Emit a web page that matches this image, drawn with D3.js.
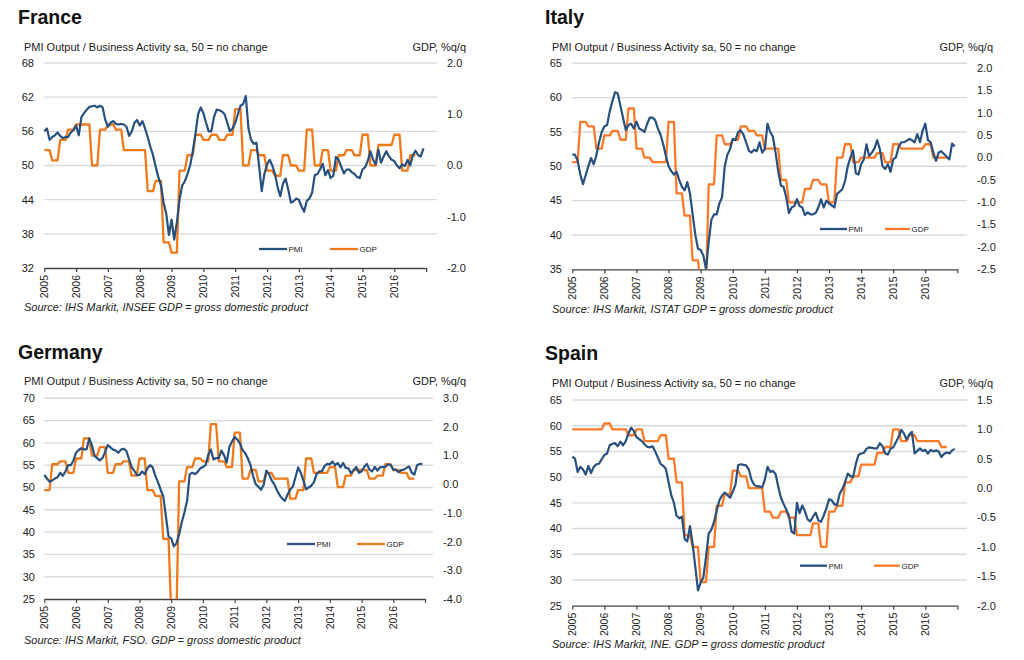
<!DOCTYPE html>
<html><head><meta charset="utf-8">
<script src="https://cdn.jsdelivr.net/npm/d3@7"></script>
<style>body{margin:0;background:#fff} svg{display:block;font-family:"Liberation Sans",Arial,Helvetica,sans-serif}</style>
</head><body><svg id="c" width="1024" height="660"></svg>
<script>
// ---------- data ----------
const years = [2005,2006,2007,2008,2009,2010,2011,2012,2013,2014,2015,2016];
const countries = ["France","Italy","Germany","Spain"];
const subtitle = "PMI Output / Business Activity sa, 50 = no change";
const rightTitle = "GDP, %q/q";
const seriesNames = ["PMI","GDP"];
const sources = [
  "Source: IHS Markit, INSEE GDP = gross domestic product",
  "Source: IHS Markit, ISTAT GDP = gross domestic product",
  "Source: IHS Markit, FSO. GDP = gross domestic product",
  "Source: IHS Markit, INE. GDP = gross domestic product"
];

const franceLeftTicks = [32,38,44,50,56,62,68];
const franceRightTicks = [-2.0,-1.0,0.0,1.0,2.0];
const italyLeftTicks = [35,40,45,50,55,60,65];
const italyRightTicks = [-2.5,-2.0,-1.5,-1.0,-0.5,0.0,0.5,1.0,1.5,2.0];
const germanyLeftTicks = [25,30,35,40,45,50,55,60,65,70];
const germanyRightTicks = [-4.0,-3.0,-2.0,-1.0,0.0,1.0,2.0,3.0];
const spainLeftTicks = [25,30,35,40,45,50,55,60,65];
const spainRightTicks = [-2.0,-1.5,-1.0,-0.5,0.0,0.5,1.0,1.5];

// monthly PMI, Jan 2005 - Dec 2016
const francePMI = [
56.0,56.5,54.5,55.0,55.3,55.8,55.2,54.8,55.0,55.0,55.8,56.2,
57.0,55.3,58.5,59.2,59.8,60.3,60.4,60.5,60.2,60.5,60.2,58.0,
56.8,57.5,57.8,57.3,57.2,57.3,57.2,56.8,55.2,56.0,57.5,58.0,
57.0,57.8,56.5,55.0,53.3,51.8,49.8,48.0,46.5,43.5,41.5,37.8,
40.5,37.0,40.0,44.0,46.5,47.2,48.5,50.0,52.5,55.5,59.0,60.2,
59.2,57.5,56.0,56.0,58.5,59.8,59.7,59.5,59.0,57.5,56.0,56.5,
57.5,59.0,60.5,60.8,62.2,56.5,54.5,53.8,54.0,50.0,45.5,48.5,
50.2,51.0,50.0,48.5,46.2,44.6,46.8,47.7,45.8,43.5,43.7,44.2,
44.0,42.8,41.9,43.8,44.2,45.2,48.3,48.5,49.3,50.3,48.3,49.2,
47.8,48.2,51.5,51.0,49.8,48.6,49.3,49.3,48.8,48.5,48.0,47.8,
49.3,49.7,50.8,52.5,51.0,50.2,52.8,50.5,51.6,52.5,51.6,51.0,
50.8,50.0,49.5,50.2,49.9,51.0,50.0,51.8,52.6,51.8,51.6,53.0];
const italyPMI = [
51.7,51.7,50.8,48.8,47.4,48.7,50.0,51.2,50.3,51.6,53.5,55.0,
55.8,56.0,58.0,59.5,60.8,60.6,58.8,57.0,55.3,56.0,56.2,55.5,
56.5,55.5,55.3,55.0,56.2,57.1,57.1,56.7,55.5,54.6,53.2,51.5,
50.0,49.3,48.8,49.2,48.0,47.0,46.5,47.7,46.0,43.0,40.0,38.0,
37.8,37.0,35.0,39.0,42.2,43.0,43.0,44.6,45.5,50.0,51.7,52.5,
54.0,53.8,55.0,55.2,54.6,53.5,52.3,52.0,52.4,52.2,53.5,52.0,
52.5,56.2,55.0,54.3,52.0,49.3,47.2,47.0,45.5,43.2,44.0,44.2,
45.2,44.2,44.0,42.9,43.3,43.0,43.0,43.2,44.0,45.2,44.0,45.0,
44.6,44.3,44.0,46.0,46.3,46.7,47.9,50.0,51.3,52.3,49.0,48.8,
50.3,51.0,53.2,51.5,52.0,52.6,53.8,52.5,50.0,49.6,50.3,49.2,
51.0,51.3,52.8,53.5,53.5,53.7,54.0,53.8,53.5,54.7,53.5,55.2,
56.2,53.8,53.5,52.0,50.8,52.0,52.2,51.8,51.4,51.0,53.3,52.9];
const germanyPMI = [
52.8,52.0,51.3,51.6,52.0,52.3,53.3,52.6,53.6,55.0,55.0,56.0,
57.8,58.4,58.8,58.5,58.6,61.0,59.5,57.1,56.6,56.1,56.6,58.0,
59.5,59.0,58.5,58.3,57.8,58.5,58.7,58.2,56.5,54.6,53.8,52.8,
52.8,53.6,53.0,54.3,55.0,54.5,52.6,51.2,49.5,48.0,43.5,39.0,
38.6,36.8,37.5,39.5,42.2,44.4,47.0,53.0,53.3,53.0,53.5,54.3,
54.6,55.0,57.3,58.5,56.3,56.6,56.6,58.3,57.2,55.6,59.1,60.3,
61.3,60.8,59.9,58.4,57.7,56.5,55.0,52.5,50.7,50.2,49.5,50.6,
53.8,53.0,51.6,50.7,49.4,48.3,47.5,47.0,48.4,49.5,50.2,52.3,
54.5,53.3,51.6,49.6,50.0,50.4,51.2,53.0,53.6,53.6,54.8,55.3,
55.2,55.8,55.0,55.5,54.5,55.5,54.4,54.3,53.2,53.9,54.6,53.3,
53.6,54.6,55.3,54.0,53.6,54.6,53.8,54.5,54.6,54.6,55.2,55.1,
54.0,54.0,53.4,53.9,54.0,54.4,54.7,53.3,52.9,55.0,55.3,55.3];
const spainPMI = [
54.0,53.6,51.0,52.0,51.5,50.5,52.2,50.8,52.0,52.5,52.6,53.5,
54.3,54.6,56.2,56.5,56.6,56.0,56.9,56.2,57.0,58.5,59.6,59.0,
57.8,57.4,57.0,56.4,55.9,55.8,56.0,55.0,53.8,52.6,52.2,51.6,
49.0,46.5,45.0,42.5,42.0,42.3,38.0,37.5,40.5,37.0,32.5,28.0,
29.5,30.5,34.5,39.0,39.8,41.3,43.5,45.5,46.4,47.0,46.5,46.0,
47.2,48.5,52.3,52.5,52.4,52.3,51.5,49.5,48.5,48.2,48.2,48.0,
49.5,52.0,51.0,51.2,50.6,48.2,46.0,44.8,43.7,42.5,39.4,39.0,
45.0,43.0,44.5,43.3,41.8,41.4,42.3,43.1,41.6,41.3,42.5,43.9,
45.7,45.5,44.7,44.6,46.8,47.7,49.0,50.7,50.2,50.0,52.5,54.3,
54.6,54.7,55.5,55.8,55.7,55.6,55.6,56.6,56.0,54.6,54.4,55.5,
55.8,56.8,57.8,59.2,58.5,57.3,58.3,58.8,54.6,55.1,55.6,55.1,
55.3,54.6,55.3,55.0,55.2,55.0,53.9,54.5,54.8,54.6,55.2,55.5];

// quarterly GDP %q/q, 2005 Q1 - 2016 Q3
const franceGDP = [0.3,0.1,0.5,0.7, 0.8,0.8,0.0,0.7, 0.8,0.7,0.3,0.3, 0.3,-0.5,-0.3,-1.5,
  -1.7,-0.1,0.2,0.6, 0.5,0.6,0.5,0.6, 1.1,0.0,0.3,0.2, -0.1,-0.2,0.2,0.0,
  -0.1,0.7,0.0,0.3, -0.1,0.2,0.3,0.2, 0.6,0.0,0.4,0.4, 0.6,-0.1,0.2];
const italyGDP = [-0.1,0.8,0.7,0.2, 0.5,0.6,0.4,1.1, 0.2,0.0,-0.1,-0.1, 0.8,-0.8,-1.3,-2.3,
  -2.9,-0.6,0.5,0.3, 0.4,0.7,0.6,0.5, 0.2,0.2,-0.5,-1.0, -1.0,-0.7,-0.5,-0.6,
  -1.0,0.0,0.3,-0.1, 0.0,0.0,0.1,-0.1, 0.3,0.2,0.2,0.2, 0.3,0.0,0.0];
const germanyGDP = [-0.2,0.7,0.8,0.4, 0.9,1.6,1.0,1.3, 0.4,0.7,0.8,0.3, 0.9,-0.2,-0.4,-1.9,
  -4.5,0.1,0.6,0.9, 0.8,2.1,0.8,0.6, 1.8,0.2,0.5,0.1, 0.4,0.2,0.2,-0.5,
  -0.2,0.9,0.4,0.4, 0.6,-0.1,0.3,0.5, 0.5,0.2,0.3,0.7, 0.5,0.4,0.2];
const spainGDP = [1.0,1.0,1.0,1.0, 1.1,1.0,1.0,0.9, 1.0,0.8,0.8,0.9, 0.5,0.1,-0.8,-1.0,
  -1.6,-1.0,-0.3,-0.1, 0.3,0.2,0.0,0.0, -0.4,-0.5,-0.4,-0.5, -0.8,-0.8,-0.6,-1.0,
  -0.4,-0.3,0.1,0.2, 0.4,0.4,0.6,0.7, 1.0,0.8,0.9,0.8, 0.8,0.8,0.7];

// ---------- layout ----------
const BLUE = "#28507f";
const svg = d3.select("#c");

const panels = [
  {name:countries[0], pmi:francePMI, gdp:franceGDP, lt:franceLeftTicks, rt:franceRightTicks, src:sources[0],
   orange:"#ee7a1b", tx:18, ty:24, sx:24, sy:50.5, gx:466,
   x0:44.3, x1:426.1, gridEnd:437, yTop:63, yBot:268, rTop:63, rBot:268,
   lLab:34, rLab:447, legY:249, leg1:[259,287], leg2:[330,358], srcY:310.5},
  {name:countries[1], pmi:italyPMI, gdp:italyGDP, lt:italyLeftTicks, rt:italyRightTicks, src:sources[1],
   orange:"#fb7a2a", tx:545, ty:24, sx:552, sy:50.5, gx:993,
   x0:572.3, x1:957.4, gridEnd:967, yTop:63.3, yBot:269.3, rTop:68.3, rBot:269.3,
   lLab:562, rLab:977, legY:229, leg1:[820,847], leg2:[885,910], srcY:313},
  {name:countries[2], pmi:germanyPMI, gdp:germanyGDP, lt:germanyLeftTicks, rt:germanyRightTicks, src:sources[2],
   orange:"#ee7a1b", tx:18, ty:359, sx:24, sy:385, gx:466,
   x0:44.3, x1:425, gridEnd:433, yTop:398.3, yBot:599, rTop:398.3, rBot:599,
   lLab:35, rLab:443, legY:544, leg1:[287,315], leg2:[357,385], srcY:644},
  {name:countries[3], pmi:spainPMI, gdp:spainGDP, lt:spainLeftTicks, rt:spainRightTicks, src:sources[3],
   orange:"#fb7a2a", tx:545, ty:360, sx:552, sy:386.5, gx:993,
   x0:572.3, x1:957.4, gridEnd:967, yTop:400, yBot:605.7, rTop:400, rBot:605.7,
   lLab:562, rLab:977, legY:565.7, leg1:[800,827], leg2:[874,900], srcY:648}
];

panels.forEach((p, idx) => {
  const g = svg.append("g");
  const x = d3.scaleLinear().domain([0, 144]).range([p.x0, p.x1]);
  const yL = d3.scaleLinear().domain([p.lt[0], p.lt[p.lt.length-1]]).range([p.yBot, p.yTop]);
  const yR = d3.scaleLinear().domain([p.rt[0], p.rt[p.rt.length-1]]).range([p.rBot, p.rTop]);

  // titles
  g.append("text").attr("x", p.tx).attr("y", p.ty).text(p.name)
    .attr("font-size", 19.5).attr("font-weight", "bold").attr("fill", "#111");
  g.append("text").attr("x", p.sx).attr("y", p.sy).text(subtitle)
    .attr("font-size", 11).attr("fill", "#222");
  g.append("text").attr("x", p.gx).attr("y", p.sy).text(rightTitle)
    .attr("font-size", 11).attr("fill", "#222").attr("text-anchor", "end");

  // gridlines
  g.selectAll("line.grid").data(p.lt.slice(1)).join("line").attr("class","grid")
    .attr("x1", p.x0).attr("x2", p.gridEnd)
    .attr("y1", d => yL(d)).attr("y2", d => yL(d))
    .attr("stroke", "#d9d9d9").attr("stroke-width", 1.4);

  // left labels
  g.selectAll("text.ll").data(p.lt).join("text").attr("class","ll")
    .attr("x", p.lLab).attr("y", d => yL(d)).attr("dy", "0.35em")
    .attr("text-anchor", "end").attr("font-size", 11).attr("fill", "#222")
    .text(d => d);
  // right labels
  g.selectAll("text.rl").data(p.rt).join("text").attr("class","rl")
    .attr("x", p.rLab).attr("y", d => yR(d)).attr("dy", "0.35em")
    .attr("font-size", 11).attr("fill", "#222")
    .text(d => d3.format(".1f")(d).replace("−","-"));

  // bottom axis
  const ax = g.append("g").attr("transform", `translate(0,${p.yBot})`)
    .call(d3.axisBottom(x).tickValues(d3.range(0, 145, 12)).tickSize(4).tickSizeOuter(0).tickFormat(""));
  ax.select(".domain").attr("stroke", "#444").attr("stroke-width", 1.3);
  ax.selectAll(".tick line").attr("stroke", "#444").attr("stroke-width", 1.2);

  // year labels
  g.selectAll("text.yr").data(years).join("text").attr("class","yr")
    .attr("transform", (d, i) => `translate(${x(i*12)},${p.yBot + 7}) rotate(-90)`)
    .attr("dy", "0.36em").attr("text-anchor", "end")
    .attr("font-size", 10.5).attr("fill", "#222").text(d => d);

  // clip
  const cid = "clip" + idx;
  svg.append("defs").append("clipPath").attr("id", cid).append("rect")
    .attr("x", p.x0 - 2).attr("y", p.yTop - 2).attr("width", p.gridEnd - p.x0 + 4).attr("height", p.yBot - p.yTop + 2);

  // GDP step (each quarter held for 3 months)
  const gdpMonthly = [];
  p.gdp.forEach((v, k) => { for (let m = 0; m < 3; m++) gdpMonthly.push({i: k*3 + m, v}); });
  const lineG = d3.line().x(d => x(d.i)).y(d => yR(d.v));
  g.append("path").datum(gdpMonthly).attr("clip-path", `url(#${cid})`)
    .attr("d", lineG).attr("fill", "none").attr("stroke", p.orange)
    .attr("stroke-width", 2.3).attr("stroke-linejoin", "round");

  const pmiData = p.pmi.map((v, i) => ({i, v}));
  const lineP = d3.line().x(d => x(d.i)).y(d => yL(d.v));
  g.append("path").datum(pmiData).attr("clip-path", `url(#${cid})`)
    .attr("d", lineP).attr("fill", "none").attr("stroke", BLUE)
    .attr("stroke-width", 2.2).attr("stroke-linejoin", "round");

  // legend
  const leg = [[p.leg1, BLUE, seriesNames[0]], [p.leg2, p.orange, seriesNames[1]]];
  leg.forEach(([xs, col, name]) => {
    g.append("line").attr("x1", xs[0]).attr("x2", xs[1]).attr("y1", p.legY).attr("y2", p.legY)
      .attr("stroke", col).attr("stroke-width", 2.3);
    g.append("text").attr("x", xs[1] + 1.5).attr("y", p.legY + 3).text(name)
      .attr("font-size", 8).attr("fill", "#222");
  });

  // source
  g.append("text").attr("x", p.sx).attr("y", p.srcY).text(p.src)
    .attr("font-size", 11).attr("font-style", "italic").attr("fill", "#222");
});
</script></body></html>
